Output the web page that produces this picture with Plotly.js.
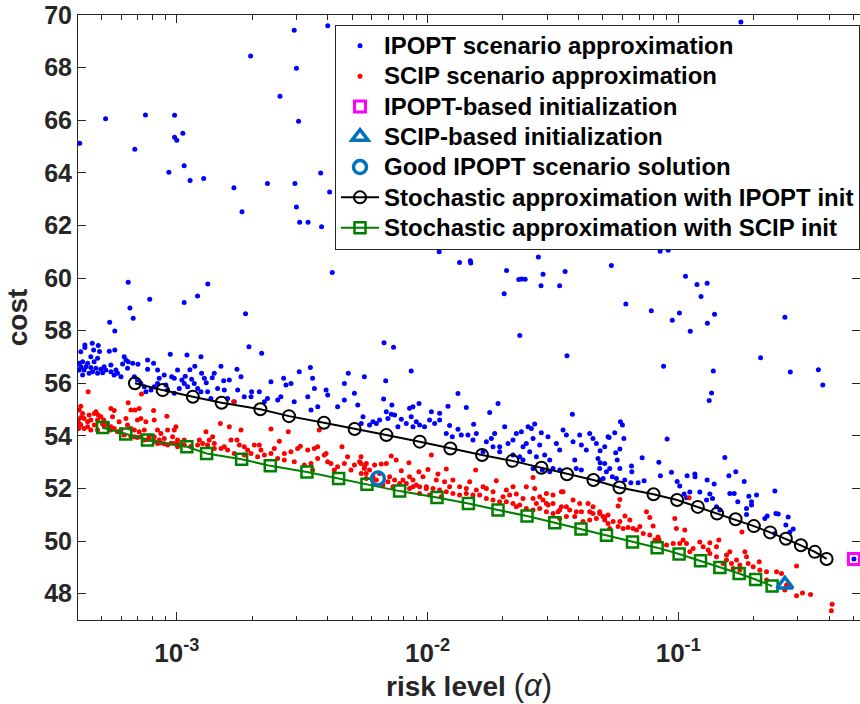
<!DOCTYPE html>
<html><head><meta charset="utf-8">
<script src="https://cdn.plot.ly/plotly-3.0.1.min.js"></script>
<style>html,body{margin:0;padding:0;background:#fff}#chart{width:860px;height:704px}
.legendtext{font-size:24px !important;}</style>
</head><body><div id="chart"></div>
<script>
// ---- Data: [risk level alpha, cost] ----
const ipoptScenario = [
[4.1e-4,65.12],[5.2e-4,66.06],[6.8e-4,64.90],[7.5e-4,66.20],[9.8e-4,66.19],[9.8e-4,65.35],[1.0e-3,65.24],[1.057e-3,65.50],[9.3e-4,64.02],[1.07e-3,64.27],[1.13e-3,63.71],[1.28e-3,63.78],[1.69e-3,63.43],[1.82e-3,62.52],[1.97e-3,68.44],[2.3e-3,63.59],[2.58e-3,66.91],[2.94e-3,69.42],[3.0e-3,67.98],[3.06e-3,65.96],[2.96e-3,63.59],[3.0e-3,62.70],[3.09e-3,62.12],[3.34e-3,62.12],[3.75e-3,63.99],[3.78e-3,61.95],[4.0e-3,69.59],[4.07e-3,63.27],[6.4e-4,59.84],[6.5e-4,58.86],[6.7e-4,58.47],[5.4e-4,58.32],[7.8e-4,59.19],[1.07e-3,59.07],[1.21e-3,59.32],[1.33e-3,59.77],[1.88e-3,58.64],
[4.17e-3,60.21],[1.113e-2,61.00],[1.342e-2,60.59],[1.482e-2,60.66],[1.488e-2,60.57],[1.492e-2,61.35],[2.768e-2,60.80],[2.066e-2,60.29],[2.312e-2,59.94],[2.376e-2,59.96],[2.452e-2,59.95],[2.89e-2,60.14],[2.837e-2,59.71],[3.539e-2,60.25],[3.366e-2,59.71],[2.022e-2,59.40],[5.412e-2,60.48],[8.08e-2,61.20],[8.47e-2,61.02],[9.12e-2,61.06],[0.1264,61.30],[0.1069,60.07],[0.1188,59.75],[0.1304,59.80],[0.1233,59.30],[6.18e-2,59.01],[7.81e-2,58.76],[0.1011,58.67],[9.47e-2,58.40],[0.1396,58.62],[0.1307,58.28],[0.1117,57.98],[0.2663,58.51],[2.333e-2,57.82],[6.71e-3,57.54],[7.32e-3,57.37],[3.60e-2,57.05],[8.74e-2,56.65],[0.2130,56.97],[0.138,56.47],[0.2799,56.43],[0.3622,56.51],[0.3773,55.93],[0.1358,55.63],[8.61e-3,56.47],[0.1778,69.73],
[5.66e-4,57.99],[4.30e-4,57.45],[4.30e-4,57.36],[4.60e-4,57.52],[4.66e-4,57.26],[4.86e-4,57.44],[4.92e-4,57.21],[4.14e-4,57.20],[5.38e-4,57.22],[5.66e-4,57.26],[6.17e-4,57.01],[6.27e-4,56.88],[6.40e-4,56.82],[6.08e-4,56.73],[6.36e-4,56.57],[6.67e-4,56.76],[7.0e-4,56.72],[7.65e-4,56.88],[7.65e-4,56.53],[8.08e-4,56.76],[8.38e-4,56.50],[9.42e-4,57.10],[1.098e-3,57.07],[1.249e-3,57.01],[1.18e-3,56.65],[1.007e-3,56.50],[1.128e-3,56.51],[8.91e-4,56.31],[9.54e-4,56.25],[8.51e-4,56.19],[9.77e-4,56.19],[1.081e-3,56.27],[1.048e-3,56.12],[1.146e-3,56.15],[1.256e-3,56.38],[1.288e-3,56.19],[1.311e-3,56.02],[1.385e-3,56.21],[1.411e-3,56.38],[1.50e-3,56.65],[1.538e-3,56.10],[1.62e-3,56.12],[1.738e-3,56.53],[1.803e-3,56.25],[1.94e-3,57.39],[2.18e-3,57.14],[1.988e-3,55.68],[2.134e-3,55.68],[2.375e-3,56.06],[2.668e-3,56.19],[2.726e-3,55.93],[2.854e-3,55.99],[3.08e-3,56.44],[3.41e-3,56.60],[3.48e-3,56.19],[3.54e-3,55.80],[3.94e-3,55.74],[4.00e-3,55.55],[4.66e-3,55.99],[4.83e-3,56.38],[5.60e-3,56.25],[5.11e-3,55.62],[5.27e-3,55.17],[4.66e-3,55.36],[4.38e-3,55.11],[3.65e-3,55.11],[3.43e-3,54.98],[3.33e-3,55.49],[2.94e-3,55.30],[2.60e-3,55.49],[2.526e-3,55.36],[2.30e-3,55.42],[2.235e-3,55.30],[1.977e-3,55.49],[1.859e-3,55.49],[1.749e-3,55.74],[1.696e-3,55.30],[1.595e-3,55.42],[1.547e-3,55.74],[1.455e-3,55.80],[1.368e-3,55.42],[1.327e-3,55.68],[1.249e-3,55.68],[1.211e-3,55.80],[1.174e-3,55.99],[1.105e-3,55.87],[1.071e-3,55.99],[1.023e-3,55.80],[9.77e-4,55.62],[9.19e-4,55.74],[9.05e-4,55.93],[8.38e-4,55.99],[8.13e-4,55.87],[7.89e-4,55.74],[7.53e-4,55.68],[7.42e-4,55.87],[7.19e-4,55.99],[6.97e-4,56.12],[6.77e-4,56.25],[5.99e-4,56.25],[5.80e-4,56.38],[5.46e-4,56.44],[5.21e-4,56.50],[4.98e-4,56.53],[4.76e-4,56.57],[4.54e-4,56.60],[4.34e-4,56.63],[4.14e-4,56.63],[4.08e-4,56.50],[4.21e-4,56.31],[4.47e-4,56.38],[4.83e-4,56.38],[5.06e-4,56.40],[4.68e-4,56.82],[4.41e-4,56.76],[4.21e-4,56.82],[4.83e-4,56.95],[4.54e-4,57.01],[4.08e-4,56.76],[4.27e-4,56.50],[4.61e-4,56.44],[5.13e-4,56.63],[5.46e-4,56.69],[5.62e-4,56.31],[5.72e-4,56.50],
[6.81e-3,56.10],[1.323e-2,55.61],[6.68e-3,55.40],[7.21e-3,55.17],[6.85e-3,54.92],[7.17e-3,54.82],[7.39e-3,54.79],[6.95e-3,54.66],[6.44e-3,54.60],[6.06e-3,54.54],[6.25e-3,54.47],[5.87e-3,54.41],[5.53e-3,54.73],[5.44e-3,54.47],[7.86e-3,54.63],[7.62e-3,54.35],[8.23e-3,54.47],[8.48e-3,55.05],[8.75e-3,55.11],[9.25e-3,55.23],[8.61e-3,54.73],[9.02e-3,54.54],[8.75e-3,54.35],[9.30e-3,54.41],[9.73e-3,54.35],[1.019e-2,54.60],[1.036e-2,54.92],[1.118e-2,54.86],[1.068e-2,54.47],[1.207e-2,55.13],[1.118e-2,54.60],[1.225e-2,54.39],[1.323e-2,54.25],[1.188e-2,54.09],[1.256e-2,53.97],[1.428e-2,55.08],[1.364e-2,54.03],[1.45e-2,54.03],[1.528e-2,54.44],[1.566e-2,54.09],[1.518e-2,53.84],[1.77e-2,54.89],[1.911e-2,55.23],[1.853e-2,54.09],[1.797e-2,53.90],[1.717e-2,53.78],[1.825e-2,53.59],[2.031e-2,54.35],[2.095e-2,53.71],[2.193e-2,53.84],[2.261e-2,54.09],[2.368e-2,54.16],[2.404e-2,53.59],[2.478e-2,53.71],[2.517e-2,54.35],[2.595e-2,54.28],[2.676e-2,54.45],[2.845e-2,54.12],[2.636e-2,53.90],[2.802e-2,53.65],[2.332e-2,53.21],[2.556e-2,53.40],[2.718e-2,53.21],[2.934e-2,53.27],[3.072e-2,53.08],[3.025e-2,53.97],[3.266e-2,53.71],[3.167e-2,52.76],[3.367e-2,53.46],[3.472e-2,54.22],[3.58e-2,54.03],[3.806e-2,53.78],[3.783e-2,54.82],[3.865e-2,53.08],[4.046e-2,54.03],[4.108e-2,53.65],[4.30e-2,53.46],[4.108e-2,52.70],[4.435e-2,54.09],[4.57e-2,53.90],[4.715e-2,53.71],[4.787e-2,53.14],[5.09e-2,53.59],[5.25e-2,53.97],[5.09e-2,52.95],[4.86e-2,52.76],[3.92e-2,52.76],[3.367e-2,52.70],[3.072e-2,52.64],[2.871e-2,52.70],[2.636e-2,52.76],[2.404e-2,53.08],[2.193e-2,53.27],[1.94e-2,53.40],[1.665e-2,53.40],[1.94e-2,53.59],
[0.1329,55.34],[5.88e-2,54.54],[5.99e-2,54.41],[5.58e-2,54.12],[5.30e-2,53.94],[4.88e-2,53.43],[6.07e-2,53.90],[5.85e-2,53.50],[5.63e-2,53.36],[5.71e-2,53.08],[4.88e-2,52.98],[5.33e-2,52.76],[5.85e-2,52.76],[5.17e-2,52.64],[5.46e-2,52.45],[5.02e-2,52.38],[4.865e-2,52.32],[5.67e-2,52.38],[6.12e-2,52.32],[6.51e-2,52.85],[6.53e-2,52.64],[6.47e-2,52.22],[6.92e-2,52.22],[7.18e-2,53.17],[7.31e-2,52.29],[8.37e-2,53.00],[9.03e-2,53.88],[8.49e-2,52.48],[9.40e-2,52.62],[9.90e-2,52.27],[0.1014,52.09],[0.1085,52.48],[0.1165,52.55],[0.1167,52.45],[0.1056,51.79],[0.1112,51.87],[0.1079,51.65],[0.1219,51.87],[0.1304,52.32],[0.1391,52.17],[0.1337,51.79],[0.137,51.62],[0.1297,51.56],[0.1421,51.31],[0.1465,51.18],[0.1534,53.18],[0.1592,52.48],[0.1697,52.64],[0.1606,51.81],[0.1672,51.81],[0.1728,51.50],[0.1833,52.27],[0.1913,51.70],[0.196,51.50],[0.2053,51.75],[0.196,51.37],[0.1872,51.24],[0.1872,51.01],[0.2215,50.86],[0.2264,50.95],[0.2452,51.05],[0.2505,51.03],[0.2429,51.90],[0.2687,50.61],[0.2745,50.92],[0.2874,50.46],[0.2788,50.35],[0.2429,50.29],[0.502,49.32]
];

const scipScenario = [
[4.43e-4,55.68],[7.23e-4,55.59],[4.14e-4,55.13],[4.08e-4,54.98],[4.14e-4,54.70],[4.04e-4,54.60],[4.27e-4,54.66],[4.41e-4,54.54],[4.54e-4,54.60],[4.69e-4,54.85],[4.76e-4,54.92],[4.86e-4,54.79],[4.98e-4,54.73],[5.11e-4,54.60],[4.69e-4,54.41],[4.41e-4,54.35],[4.14e-4,54.41],[4.06e-4,54.28],[5.29e-4,54.47],[5.46e-4,55.04],[5.63e-4,54.96],[5.54e-4,54.73],[5.89e-4,54.54],[6.27e-4,54.66],[6.40e-4,55.26],[6.56e-4,54.98],[6.81e-4,54.98],[7.08e-4,55.04],[6.97e-4,54.60],[7.19e-4,54.66],[7.53e-4,54.54],[8.08e-4,54.96],[8.13e-4,54.60],[9.13e-4,54.75],[9.92e-4,54.35],[8.38e-4,54.22],[8.64e-4,54.09],[9.19e-4,54.22],[9.62e-4,53.97],[9.77e-4,54.22],[1.007e-3,53.84],[8.91e-4,53.90],[8.51e-4,53.84],[8.13e-4,53.97],[7.77e-4,53.99],[7.42e-4,54.22],[7.08e-4,54.16],[6.77e-4,54.22],[6.56e-4,54.28],[6.36e-4,54.41],[5.99e-4,54.22],[5.63e-4,54.28],[5.46e-4,54.22],[6.77e-4,53.97],[7.19e-4,53.97],[7.77e-4,53.86],[8.38e-4,53.71],[9.19e-4,53.65],[9.77e-4,53.71],[1.007e-3,53.59],[1.071e-3,53.84],[1.139e-3,53.59],[1.23e-3,53.84],[1.307e-3,54.16],[1.268e-3,53.71],[1.347e-3,53.84],[1.39e-3,53.97],[1.411e-3,53.71],[1.492e-3,54.47],[1.547e-3,53.59],[1.62e-3,54.35],[1.645e-3,53.84],[1.686e-3,55.30],[1.738e-3,53.84],[1.803e-3,54.22],[1.776e-3,53.65],[1.859e-3,53.59],[1.917e-3,53.46],[2.038e-3,53.65],[2.134e-3,53.65],[2.166e-3,53.46],[2.375e-3,54.26],[2.565e-3,53.80],[2.785e-3,54.16],[2.449e-3,53.52],[2.685e-3,53.33],[2.854e-3,53.40],[3.034e-3,53.52],[3.11e-3,53.61],[3.327e-3,53.46],[3.429e-3,52.95],[3.536e-3,53.52],[3.646e-3,53.59],[3.70e-3,54.22],[3.875e-3,53.27],[3.94e-3,53.33],[4.12e-3,52.95],[3.646e-3,53.14],[4.38e-3,52.83],[4.56e-3,53.59],[4.66e-3,52.95],[4.95e-3,52.70],[5.11e-3,52.89],[5.43e-3,52.95],[5.60e-3,52.76],[5.43e-3,53.21],[5.69e-3,52.57],[4.80e-3,53.21],[4.25e-3,52.70],[3.996e-3,53.02],[3.48e-3,52.70],[3.226e-3,52.89],[2.943e-3,53.02],[2.685e-3,53.08],[2.525e-3,53.14],[2.375e-3,53.33],[2.235e-3,53.27],[2.101e-3,53.21],[1.977e-3,53.33],[1.859e-3,53.27],[1.696e-3,53.33],[1.595e-3,53.46],[1.501e-3,53.52],[1.411e-3,53.52],[1.327e-3,53.65],[1.211e-3,53.65],[1.139e-3,53.60],[1.071e-3,53.65],[1.007e-3,53.70],[9.48e-4,53.72],[8.91e-4,53.70],[8.64e-4,53.74],[8.13e-4,53.80],[7.65e-4,53.86],[7.42e-4,53.84],[6.97e-4,53.94],[6.56e-4,53.98],[6.17e-4,54.03],[5.80e-4,54.16],[5.46e-4,54.35],[5.14e-4,54.35],[4.83e-4,54.22],[4.54e-4,54.22],[4.27e-4,54.28],[4.08e-4,54.47],[4.21e-4,54.85],[4.47e-4,54.79],[4.83e-4,54.60],[5.06e-4,54.45],
[5.36e-3,53.02],[5.70e-3,52.95],[6.15e-3,52.89],[6.54e-3,52.93],[6.85e-3,52.95],[7.17e-3,53.23],[7.50e-3,53.08],[7.86e-3,52.67],[8.43e-3,52.98],[1.036e-2,53.27],[1.188e-2,52.74],[1.101e-2,52.55],[1.004e-2,52.72],[9.24e-3,52.64],[9.59e-3,52.45],[8.75e-3,52.32],[8.48e-3,52.45],[7.98e-3,52.32],[7.39e-3,52.32],[6.95e-3,52.26],[7.28e-3,52.07],[8.23e-3,52.19],[9.02e-3,52.13],[9.89e-3,52.07],[1.084e-2,52.32],[1.170e-2,52.26],[1.263e-2,52.32],[1.343e-2,52.07],[1.428e-2,52.00],[1.556e-2,52.70],[1.717e-2,52.00],[1.881e-2,52.29],[2.001e-2,51.69],[2.063e-2,51.94],[2.193e-2,52.07],[2.261e-2,51.79],[2.404e-2,51.62],[2.478e-2,52.07],[2.636e-2,52.42],[2.677e-2,52.00],[2.802e-2,51.69],[2.889e-2,51.56],[2.718e-2,51.43],[3.026e-2,51.37],[3.167e-2,51.75],[3.316e-2,51.12],[3.42e-2,51.31],[3.472e-2,51.88],[3.691e-2,51.18],[3.806e-2,51.56],[3.924e-2,51.12],[4.046e-2,51.43],[4.37e-2,51.43],[4.572e-2,51.31],[4.572e-2,51.05],[4.862e-2,51.12],[5.01e-2,50.93],[5.25e-2,50.99],[4.715e-2,50.86],[4.435e-2,50.80],[4.172e-2,50.74],[3.865e-2,50.93],[3.58e-2,50.93],[3.367e-2,50.86],[3.167e-2,51.05],[2.98e-2,51.12],[2.802e-2,51.24],[2.636e-2,51.18],[2.478e-2,51.24],[2.332e-2,51.37],[2.193e-2,51.43],[2.063e-2,51.50],[1.94e-2,51.50],[1.825e-2,51.56],[1.717e-2,51.62],[1.614e-2,51.75],[1.518e-2,51.75],[1.428e-2,51.81],[1.343e-2,51.75],[1.263e-2,51.81],[1.188e-2,51.88],[1.118e-2,51.94],[1.052e-2,52.00],[9.89e-3,52.00],[9.30e-3,52.07],[8.75e-3,52.07],[7.74e-3,52.19],[7.06e-3,52.45],[6.44e-3,52.57],[6.06e-3,52.45],[5.70e-3,52.38],[5.44e-3,52.57],[6.25e-3,52.32],[6.64e-3,52.13],[5.87e-3,52.70],[5.61e-3,52.83],[3.167e-2,51.43],[2.98e-2,51.81],[3.58e-2,51.31],[4.11e-2,51.12],[4.435e-2,51.12],[5.09e-2,50.80],[5.25e-2,50.67],[3.367e-2,51.18],[2.261e-2,51.31],[2.127e-2,51.75],[1.825e-2,51.88],[1.665e-2,52.07],[1.566e-2,51.94],[1.473e-2,52.26],[1.225e-2,52.07],[1.135e-2,51.69],[1.019e-2,51.75],[9.30e-3,51.81],[8.48e-3,52.00],[3.42e-2,51.88],[2.636e-2,51.62],[2.98e-2,51.43],
[5.85e-2,51.58],[5.76e-2,51.33],[4.865e-2,51.05],[5.09e-2,50.92],[5.50e-2,50.74],[5.85e-2,50.74],[6.13e-2,50.95],[6.41e-2,50.80],[5.33e-2,50.48],[5.76e-2,50.55],[6.03e-2,50.48],[6.31e-2,50.52],[6.61e-2,50.48],[6.82e-2,50.42],[7.03e-2,50.55],[7.47e-2,51.12],[7.70e-2,50.90],[7.94e-2,50.57],[7.25e-2,50.29],[7.70e-2,50.23],[8.31e-2,50.16],[8.07e-2,50.04],[9.69e-2,50.86],[9.83e-2,50.48],[0.1062,50.42],[9.55e-2,49.91],[0.1014,49.91],[0.1046,50.04],[0.1079,49.91],[0.1112,49.59],[0.1219,49.97],[0.1257,49.78],[0.1337,49.94],[0.1317,49.66],[0.1337,49.53],[0.1421,49.40],[0.1452,50.04],[0.1558,49.47],[0.1558,49.28],[0.1606,49.59],[0.1631,49.15],[0.1708,49.28],[0.1761,49.09],[0.1844,49.59],[0.1872,49.40],[0.1901,49.15],[0.1761,48.90],[0.1991,49.02],[0.2103,49.21],[0.1795,50.35],[0.2467,48.83],[0.2582,48.77],[0.2250,48.52],[0.2703,48.33],[0.2662,48.14],[0.2964,49.05],[0.2964,47.92],[0.313,48.03],[0.337,47.97],[0.411,47.60],[0.408,47.35],[0.1105,51.65],[8.39e-2,50.04],[8.98e-2,49.85],[0.1147,49.72],[0.1421,49.78],[0.1511,49.15],[0.1656,48.96],[0.2116,48.90],[0.2250,48.83]
];

const saIpoptAlpha = [6.81e-4,8.78e-4,1.159e-3,1.509e-3,2.154e-3,2.801e-3,3.864e-3,5.12e-3,6.855e-3,9.31e-3,1.234e-2,1.650e-2,2.18e-2,2.848e-2,3.60e-2,4.59e-2,5.83e-2,7.97e-2,9.90e-2,0.1197,0.1429,0.1693,0.2003,0.2326,0.2688,0.3085,0.3507,0.3906];
const saIpoptCost  = [56.00,55.74,55.49,55.26,55.01,54.75,54.50,54.26,54.03,53.78,53.52,53.27,53.05,52.79,52.54,52.32,52.04,51.78,51.56,51.30,51.05,50.83,50.57,50.33,50.09,49.84,49.59,49.32];

const saScipAlpha = [5.06e-4,6.26e-4,7.64e-4,1.097e-3,1.315e-3,1.814e-3,2.36e-3,3.305e-3,4.42e-3,5.735e-3,7.74e-3,1.091e-2,1.456e-2,1.911e-2,2.495e-2,3.218e-2,4.096e-2,5.175e-2,6.57e-2,8.24e-2,0.1008,0.1227,0.1466,0.175,0.2035,0.2369];
const saScipCost  = [54.32,54.07,53.84,53.59,53.33,53.11,52.86,52.63,52.38,52.16,51.90,51.66,51.43,51.18,50.95,50.70,50.46,50.22,49.97,49.75,49.51,49.25,49.00,48.77,48.54,48.29];

const ipoptInit = {alpha: 0.502, cost: 49.32};
const scipInit = {alpha: 0.2663, cost: 48.35};
const goodIpopt = {alpha: 6.34e-3, cost: 52.38};

const yTickVals = [48,50,52,54,56,58,60,62,64,66,68,70];
const xTickVals = [1e-3, 1e-2, 1e-1];
const xTickText = ['10<sup>-3</sup>','10<sup>-2</sup>','10<sup>-1</sup>'];

// minor tick positions (2..9 x each decade)
const xMinor = [];
[-4,-3,-2,-1].forEach(function(d){ for (let m = 2; m <= 9; m++) xMinor.push(m * Math.pow(10, d)); });

const FONT = "'Liberation Sans', Arial, Helvetica, sans-serif";
const AX = '#262626';

const traces = [
  {x: ipoptScenario.map(p=>p[0]), y: ipoptScenario.map(p=>p[1]), type:'scatter', mode:'markers',
   name:'IPOPT scenario approximation', legendrank:1,
   marker:{color:'#0000ff', size:5}},
  {x: scipScenario.map(p=>p[0]), y: scipScenario.map(p=>p[1]), type:'scatter', mode:'markers',
   name:'SCIP scenario approximation', legendrank:2,
   marker:{color:'#ff0000', size:5}},
  {x: saIpoptAlpha, y: saIpoptCost, type:'scatter', mode:'lines+markers',
   name:'Stochastic approximation with IPOPT init', legendrank:6,
   line:{color:'#000000', width:2},
   marker:{symbol:'circle-open', size:12, color:'#000000', line:{width:2}}},
  {x: saScipAlpha, y: saScipCost, type:'scatter', mode:'lines+markers',
   name:'Stochastic approximation with SCIP init', legendrank:7,
   line:{color:'#008000', width:2},
   marker:{symbol:'square-open', size:11, color:'#008000', line:{width:2.5}}},
  {x:[ipoptInit.alpha], y:[ipoptInit.cost], type:'scatter', mode:'markers',
   name:'IPOPT-based initialization', legendrank:3,
   marker:{symbol:'square-open', size:11, color:'#ff00ff', line:{width:3}}},
  {x:[scipInit.alpha], y:[scipInit.cost], type:'scatter', mode:'markers',
   name:'SCIP-based initialization', legendrank:4,
   marker:{symbol:'triangle-up-open', size:14, color:'#0072BD', line:{width:3.5}}},
  {x:[goodIpopt.alpha], y:[goodIpopt.cost], type:'scatter', mode:'markers',
   name:'Good IPOPT scenario solution', legendrank:5,
   marker:{symbol:'circle-open', size:13, color:'#0072BD', line:{width:3.5}}}
];

const layout = {
  width: 860, height: 704,
  margin: {l:78, r:0, t:15, b:84, pad:0},
  paper_bgcolor:'#ffffff', plot_bgcolor:'#ffffff',
  font: {family: FONT, color: AX, size: 24, weight: 700},
  showlegend: true,
  xaxis: {
    type:'log', range:[-3.394, -0.275],
    tickmode:'array', tickvals: xTickVals, ticktext: xTickText,
    ticks:'inside', ticklen:8, tickwidth:1, tickcolor:AX,
    minor:{tickmode:'array', tickvals:xMinor, ticks:'inside', ticklen:4.5, tickwidth:1, tickcolor:AX, showgrid:false},
    showline:true, linecolor:AX, linewidth:1, mirror:'ticks',
    showgrid:false, zeroline:false,
    ticklabelstandoff: 10,
    tickfont:{family:FONT, size:26, color:AX, weight:700},
    title:{text:'risk level <span style="font-weight:normal;font-size:31px">(<i>α</i>)</span>', font:{family:FONT, size:28, color:AX, weight:700}, standoff:8}
  },
  yaxis: {
    range:[47, 70], tickmode:'array', tickvals: yTickVals,
    ticks:'inside', ticklen:8, tickwidth:1, tickcolor:AX,
    showline:true, linecolor:AX, linewidth:1, mirror:'ticks',
    showgrid:false, zeroline:false,
    tickfont:{family:FONT, size:25, color:AX, weight:700},
    title:{text:'cost', font:{family:FONT, size:28, color:AX, weight:700}, standoff:8}
  },
  legend: {
    x:1, xanchor:'right', y:0.984, yanchor:'top',
    bgcolor:'#ffffff', bordercolor:AX, borderwidth:1,
    font:{family:FONT, size:21, color:'#000000', weight:700},
    itemwidth:38,
    tracegroupgap:0
  }
};

Plotly.newPlot('chart', traces, layout, {displayModeBar:false, staticPlot:true});
</script>
</body></html>
